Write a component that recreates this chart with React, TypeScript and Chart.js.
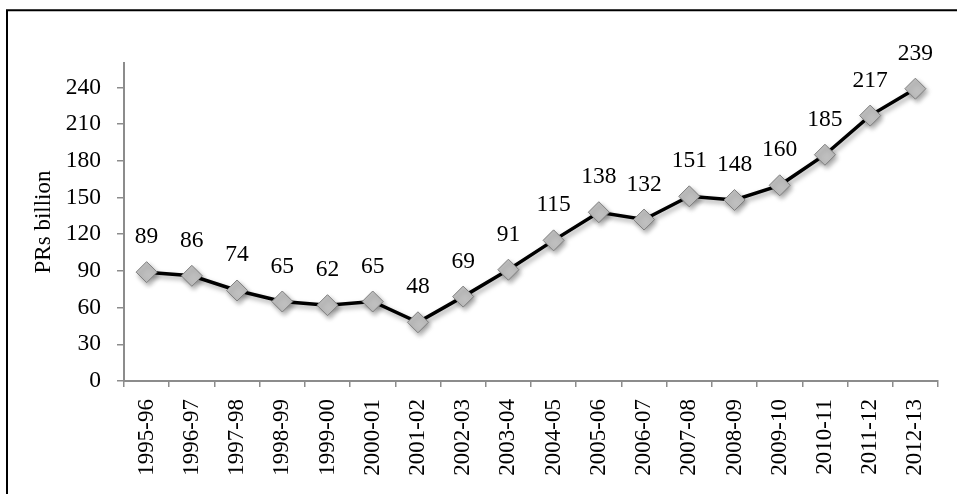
import React, { useEffect, useRef } from "react";
import { Chart, registerables } from "chart.js";

Chart.register(...registerables);

const categories = [
  "1995-96", "1996-97", "1997-98", "1998-99", "1999-00", "2000-01",
  "2001-02", "2002-03", "2003-04", "2004-05", "2005-06", "2006-07",
  "2007-08", "2008-09", "2009-10", "2010-11", "2011-12", "2012-13",
];
const values = [89, 86, 74, 65, 62, 65, 48, 69, 91, 115, 138, 132, 151, 148, 160, 185, 217, 239];
const yAxisTitle = "PRs billion";
const yMin = 0;
const yMax = 260;
const yStep = 30;

const FONT = "'Liberation Serif', 'Times New Roman', serif";
const AXIS = "#8c8c8c";

const framePlugin = {
  id: "frame",
  afterDraw(chart: any) {
    const ctx = chart.ctx;
    ctx.save();
    ctx.strokeStyle = "#000";
    ctx.lineWidth = 2;
    ctx.beginPath();
    ctx.moveTo(7, 494);
    ctx.lineTo(7, 10.3);
    ctx.lineTo(957, 10.3);
    ctx.stroke();
    ctx.restore();
  },
};

const shadowPlugin = {
  id: "shadowLabels",
  beforeDatasetsDraw(chart: any) {
    const ctx = chart.ctx;
    ctx.save();
    ctx.shadowColor = "rgba(0,0,0,0.35)";
    ctx.shadowBlur = 5;
    ctx.shadowOffsetX = 2;
    ctx.shadowOffsetY = 3;
  },
  afterDatasetsDraw(chart: any) {
    const ctx = chart.ctx;
    ctx.restore();
    ctx.save();
    ctx.font = `23.5px ${FONT}`;
    ctx.fillStyle = "#000";
    ctx.textAlign = "center";
    ctx.textBaseline = "alphabetic";
    const meta = chart.getDatasetMeta(0);
    meta.data.forEach((pt: any, i: number) => {
      ctx.fillText(String(chart.data.datasets[0].data[i]), pt.x, pt.y - 29);
    });
    ctx.restore();
  },
};

export default function App() {
  const ref = useRef<HTMLCanvasElement | null>(null);
  useEffect(() => {
    if (!ref.current) return;
    const chart = new Chart(ref.current, {
      type: "line",
      data: {
        labels: categories,
        datasets: [
          {
            data: values,
            borderColor: "#000",
            borderWidth: 3.5,
            pointStyle: "rectRot",
            pointRadius: 10.5,
            pointBackgroundColor: "#bfbfbf",
            pointBorderColor: "#7f7f7f",
            pointBorderWidth: 1,
            tension: 0,
            clip: false as any,
          },
        ],
      },
      options: {
        animation: false,
        responsive: true,
        maintainAspectRatio: false,
        layout: { padding: { left: 0, right: 19, top: 63, bottom: 0 } },
        plugins: { legend: { display: false }, tooltip: { enabled: false } },
        scales: {
          x: {
            offset: true,
            grid: {
              offset: true,
              drawOnChartArea: false,
              drawTicks: true,
              tickLength: 6,
              color: AXIS,
              lineWidth: 1.5,
            },
            border: { display: true, color: AXIS, width: 2 },
            ticks: {
              autoSkip: false,
              maxRotation: 90,
              minRotation: 90,
              padding: 12,
              color: "#000",
              font: { family: FONT, size: 23 },
            },
            afterFit: (s: any) => {
              s.height = 113;
            },
          },
          y: {
            min: yMin,
            max: yMax,
            grid: {
              drawOnChartArea: false,
              drawTicks: true,
              tickLength: 7,
              color: AXIS,
              lineWidth: 1.5,
            },
            border: { display: true, color: AXIS, width: 2 },
            ticks: {
              stepSize: yStep,
              includeBounds: false,
              padding: 16,
              color: "#000",
              font: { family: FONT, size: 23.5 },
            },
            title: {
              display: true,
              text: yAxisTitle,
              color: "#000",
              font: { family: FONT, size: 23 },
              padding: { top: 30, bottom: 0 },
            },
            afterFit: (s: any) => {
              s.width = 124;
            },
          },
        },
      },
      plugins: [shadowPlugin, framePlugin],
    });
    return () => chart.destroy();
  }, []);
  return (
    <div style={{ position: "fixed", left: 0, top: 0, width: 957, height: 494, background: "#fff" }}>
      <canvas ref={ref} />
    </div>
  );
}
